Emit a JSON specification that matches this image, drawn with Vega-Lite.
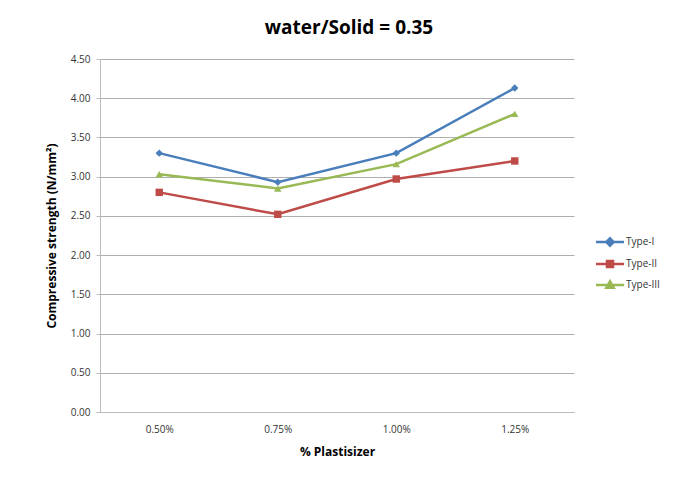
{
  "$schema": "https://vega.github.io/schema/vega-lite/v6.json",
  "autosize": "none",
  "width": 474,
  "height": 353,
  "padding": {"left": 100, "top": 59, "right": 118, "bottom": 67},
  "background": "white",
  "title": {"text": "water/Solid = 0.35", "font": "Open Sans", "fontSize": 19, "fontWeight": "bold", "color": "#000000", "anchor": "middle", "offset": 16, "dx": 12},
  "data": {"values": [
    {"p": "0.50%", "type": "Type-I", "v": 3.30},
    {"p": "0.75%", "type": "Type-I", "v": 2.93},
    {"p": "1.00%", "type": "Type-I", "v": 3.30},
    {"p": "1.25%", "type": "Type-I", "v": 4.13},
    {"p": "0.50%", "type": "Type-II", "v": 2.80},
    {"p": "0.75%", "type": "Type-II", "v": 2.52},
    {"p": "1.00%", "type": "Type-II", "v": 2.97},
    {"p": "1.25%", "type": "Type-II", "v": 3.20},
    {"p": "0.50%", "type": "Type-III", "v": 3.03},
    {"p": "0.75%", "type": "Type-III", "v": 2.85},
    {"p": "1.00%", "type": "Type-III", "v": 3.16},
    {"p": "1.25%", "type": "Type-III", "v": 3.80}
  ]},
  "config": {
    "view": {"stroke": null},
    "font": "Open Sans"
  },
  "encoding": {
    "x": {"field": "p", "type": "ordinal", "sort": null,
      "scale": {"type": "point", "padding": 0.5},
      "axis": {"title": "% Plastisizer", "titleFontSize": 12, "titleFontWeight": "bold", "titleColor": "#000", "titlePadding": 12,
        "labelAngle": 0, "labelFontSize": 10, "labelColor": "#333", "labelPadding": 12, "ticks": false, "domainColor": "#bbbbbb", "grid": false}},
    "y": {"field": "v", "type": "quantitative",
      "scale": {"domain": [0, 4.5]},
      "axis": {"title": "Compressive strength (N/mm²)", "titleFontSize": 12, "titleFontWeight": "bold", "titleColor": "#000", "titlePadding": 12,
        "values": [0, 0.5, 1, 1.5, 2, 2.5, 3, 3.5, 4, 4.5], "format": ".2f", "labelFontSize": 10, "labelColor": "#333", "labelPadding": 6,
        "tickSize": 4, "tickColor": "#bbbbbb", "domainColor": "#bbbbbb", "gridColor": "#999999", "gridWidth": 0.8}}
  },
  "layer": [
    {"mark": {"type": "line", "strokeWidth": 2.5},
     "encoding": {"color": {"field": "type", "type": "nominal",
      "scale": {"domain": ["Type-I", "Type-II", "Type-III"], "range": ["#4a7ebb", "#be4b48", "#98b954"]},
      "legend": {"title": null, "orient": "none", "legendX": 497, "legendY": 170, "labelFontSize": 10, "labelColor": "#333", "rowPadding": 0, "labelOffset": 3,
        "symbolSize": 529, "symbolStrokeWidth": 2.5,
        "encode": {"symbols": {"update": {
          "shape": {"signal": "datum.value === 'Type-I' ? 'M-1.22,0L1.22,0M0,-0.32L0.32,0L0,0.32L-0.32,0Z' : datum.value === 'Type-II' ? 'M-1.22,0L1.22,0M-0.26,-0.26L0.26,-0.26L0.26,0.26L-0.26,0.26Z' : 'M-1.22,0L1.22,0M0,-0.32L0.32,0.24L-0.32,0.24Z'"},
          "fill": {"scale": "color", "field": "value"},
          "fillOpacity": {"value": 1}
        }}}}}}},
    {"mark": {"type": "point", "size": 55, "filled": true, "opacity": 1},
     "encoding": {
       "color": {"field": "type", "type": "nominal", "legend": null},
       "shape": {"field": "type", "type": "nominal",
       "scale": {"domain": ["Type-I", "Type-II", "Type-III"], "range": ["diamond", "square", "triangle-up"]},
       "legend": null}}}
  ],
  "resolve": {"legend": {"color": "independent", "shape": "independent"}}
}
